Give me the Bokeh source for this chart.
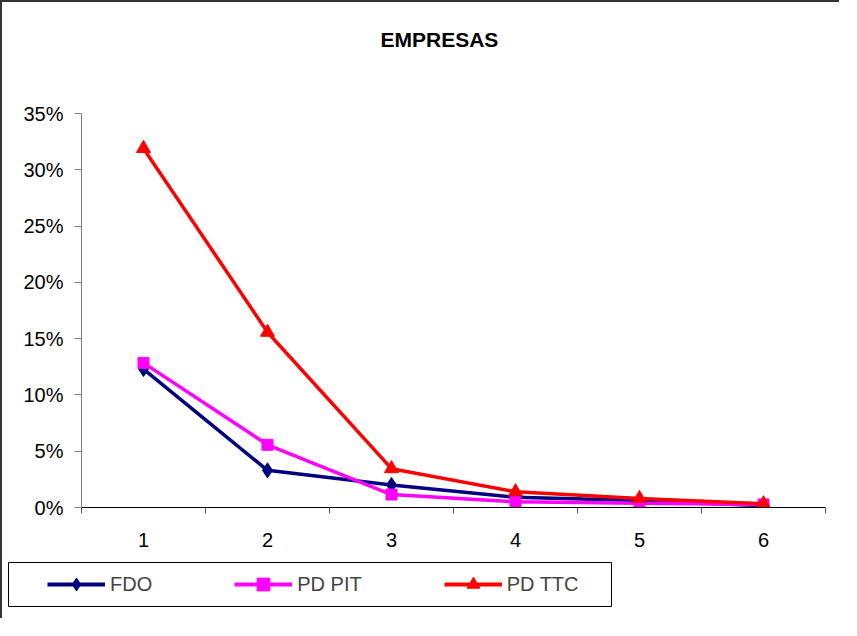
from bokeh.plotting import figure
from bokeh.models import (Range1d, FixedTicker, NumeralTickFormatter, Legend, LegendItem, Title)
from bokeh.embed import file_html
from bokeh.resources import INLINE

categories = [1, 2, 3, 4, 5, 6]
tick_labels = ["1", "2", "3", "4", "5", "6"]
fdo = [0.123, 0.033, 0.020, 0.009, 0.0062, 0.0015]
pd_pit = [0.1285, 0.0557, 0.0115, 0.0050, 0.0038, 0.0027]
pd_ttc = [0.319, 0.1557, 0.0345, 0.0140, 0.0080, 0.0033]
y_ticks = [0, 0.05, 0.10, 0.15, 0.20, 0.25, 0.30, 0.35]
series_names = ["FDO", "PD PIT", "PD TTC"]
series_colors = ["#000080", "#FF00FF", "#FF0000"]
series_markers = ["diamond", "square", "triangle"]
marker_sizes = [15, 11, 14]

FONT = "Liberation Sans"
FS = "20px"

# ---------------- main chart ----------------
p = figure(width=839, height=554, output_backend="svg", toolbar_location=None,
           x_range=Range1d(0.5, 6.5), y_range=Range1d(0, 0.35),
           min_border_left=79, min_border_right=16, min_border_top=111, min_border_bottom=49)
p.outline_line_color = None
p.xgrid.grid_line_color = None
p.ygrid.grid_line_color = None
p.background_fill_color = "white"
p.border_fill_color = "white"

# real title, plus an empty spacer title between it and the plot area
p.title.text = "EMPRESAS"
p.title.text_font = FONT
p.title.text_font_size = "21px"
p.title.text_font_style = "bold"
p.title.text_color = "black"
p.title.align = "left"
p.title.offset = 299
p.title.standoff = 10
p.add_layout(Title(text=" ", text_font_size="2px", standoff=54), "above")

xa = p.xaxis[0]
xa.ticker = FixedTicker(ticks=categories, minor_ticks=[c - 0.5 for c in categories] + [6.5])
xa.major_label_overrides = {c: t for c, t in zip(categories, tick_labels)}
xa.major_tick_out = 0
xa.major_tick_in = 0
xa.minor_tick_out = 6
xa.minor_tick_in = 0
xa.minor_tick_line_color = "#555555"
xa.axis_line_color = "black"
xa.major_label_text_font = FONT
xa.major_label_text_font_size = FS
xa.major_label_text_color = "black"
xa.major_label_standoff = 19

ya = p.yaxis[0]
ya.ticker = FixedTicker(ticks=y_ticks)
ya.formatter = NumeralTickFormatter(format="0%")
ya.minor_tick_line_color = None
ya.major_tick_out = 7
ya.major_tick_in = 0
ya.axis_line_color = "#808080"
ya.major_tick_line_color = "#808080"
ya.major_label_text_font = FONT
ya.major_label_text_font_size = FS
ya.major_label_text_color = "black"
ya.major_label_standoff = 11

series_values = [fdo, pd_pit, pd_ttc]
for vals, col, mk, sz in zip(series_values, series_colors, series_markers, marker_sizes):
    p.line(categories, vals, line_color=col, line_width=3.5)
    p.scatter(categories, vals, marker=mk, size=sz, fill_color=col, line_color=col)

p.styles = {"border-top": "2px solid #333333", "border-left": "2px solid #333333"}

# ---------------- legend strip (separate root so frames are not aligned) ----------------
q = figure(width=839, height=64, output_backend="svg", toolbar_location=None,
           x_range=Range1d(100, 101), y_range=Range1d(100, 101),
           x_axis_type=None, y_axis_type=None,
           min_border_left=6, min_border_right=230, min_border_top=8, min_border_bottom=12)
q.xgrid.grid_line_color = None
q.ygrid.grid_line_color = None
q.outline_line_color = "black"
q.outline_line_width = 1
q.background_fill_color = "white"
q.border_fill_color = "white"

items = []
for name, vals, col, mk, sz in zip(series_names, series_values, series_colors, series_markers, marker_sizes):
    rl = q.line(categories, vals, line_color=col, line_width=4)
    rs = q.scatter(categories, vals, marker=mk, size=sz, fill_color=col, line_color=col)
    items.append(LegendItem(label=name, renderers=[rl, rs]))

legend = Legend(items=items, orientation="horizontal", location=(39, 6),
                padding=0, margin=0, spacing=82, glyph_width=58, glyph_height=32,
                label_height=32, label_standoff=5,
                label_text_font=FONT, label_text_font_size=FS,
                border_line_alpha=0, background_fill_alpha=0)
q.add_layout(legend, "center")
q.styles = {"border-left": "2px solid #333333"}

open("out.html", "w").write(file_html([p, q], INLINE))
